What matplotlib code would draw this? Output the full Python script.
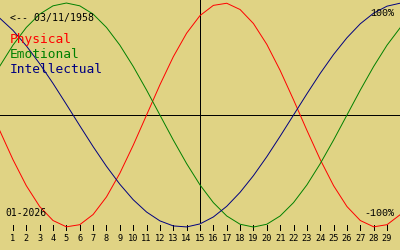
import matplotlib
matplotlib.use("Agg")
import matplotlib.pyplot as plt

# dias del mes (0..30) y valores (-1..1)
days = list(range(0, 31))
physical = [-0.136, -0.398, -0.631, -0.817, -0.942, -0.998, -0.979, -0.888, -0.731, -0.520,
            -0.270, 0.000, 0.270, 0.520, 0.731, 0.888, 0.979, 0.998, 0.942, 0.817,
            0.631, 0.398, 0.136, -0.136, -0.398, -0.631, -0.817, -0.942, -0.998, -0.979,
            -0.888]
emotional = [0.434, 0.624, 0.782, 0.901, 0.975, 1.000, 0.975, 0.901, 0.782, 0.624,
             0.434, 0.223, 0.000, -0.223, -0.434, -0.624, -0.782, -0.901, -0.975, -1.000,
             -0.975, -0.901, -0.782, -0.624, -0.434, -0.223, 0.000, 0.223, 0.434, 0.624,
             0.782]
intellectual = [0.866, 0.756, 0.618, 0.458, 0.282, 0.095, -0.095, -0.282, -0.458, -0.618,
                -0.756, -0.866, -0.945, -0.990, -0.999, -0.972, -0.910, -0.815, -0.690, -0.541,
                -0.372, -0.189, 0.000, 0.189, 0.372, 0.541, 0.690, 0.815, 0.910, 0.972,
                0.999]
tick_days = list(range(1, 30))
series_names = ["Physical", "Emotional", "Intellectual"]
birth_label = "<-- 03/11/1958"
month_label = "01-2026"
today = 15

bg = "#e0d384"
colors = ["#ff0000", "#008000", "#000080"]
mono = "DejaVu Sans Mono"

fig = plt.figure(figsize=(4, 2.5), dpi=100)
fig.patch.set_facecolor(bg)
ax = fig.add_axes([0, 0, 1, 1])
ax.set_facecolor(bg)
ax.set_axis_off()
ax.set_xlim(0.03, 29.97)
ax.set_ylim(-1.205, 1.027)

# ejes
ax.axhline(0, color="black", lw=0.72, antialiased=False)
ax.vlines(today, -0.955, 1.03, color="black", lw=0.72, antialiased=False)
ax.vlines(tick_days, -1.027, -0.982, color="black", lw=0.72, antialiased=False)

# curvas
for vals, c in zip([physical, emotional, intellectual], colors):
    ax.plot(days, vals, color=c, lw=0.7)

for d in tick_days:
    ax.text(d, -1.129, str(d), fontsize=6.2, family=mono, ha="center", va="baseline",
            color="black")

# textos (coordenadas de ejes)
def px(x, y):
    return x / 400, 1 - y / 250

ax.text(*px(10, 20.7), birth_label, transform=ax.transAxes, fontsize=7.1, family=mono,
        va="baseline", color="black")
for i, (name, c) in enumerate(zip(series_names, colors)):
    ax.text(*px(10, 42.7 + 15 * i), name, transform=ax.transAxes, fontsize=9.3,
            family=mono, va="baseline", color=c)
ax.text(*px(5, 215.7), month_label, transform=ax.transAxes, fontsize=7, family=mono,
        va="baseline", color="black")
ax.text(*px(394, 15.7), "100%", transform=ax.transAxes, fontsize=7.2,
        family="Liberation Mono", ha="right", va="baseline", color="black")
ax.text(*px(394, 215.7), "-100%", transform=ax.transAxes, fontsize=7.2,
        family="Liberation Mono", ha="right", va="baseline", color="black")

plt.savefig("out.png", dpi=100, facecolor=bg)
plt.close()
